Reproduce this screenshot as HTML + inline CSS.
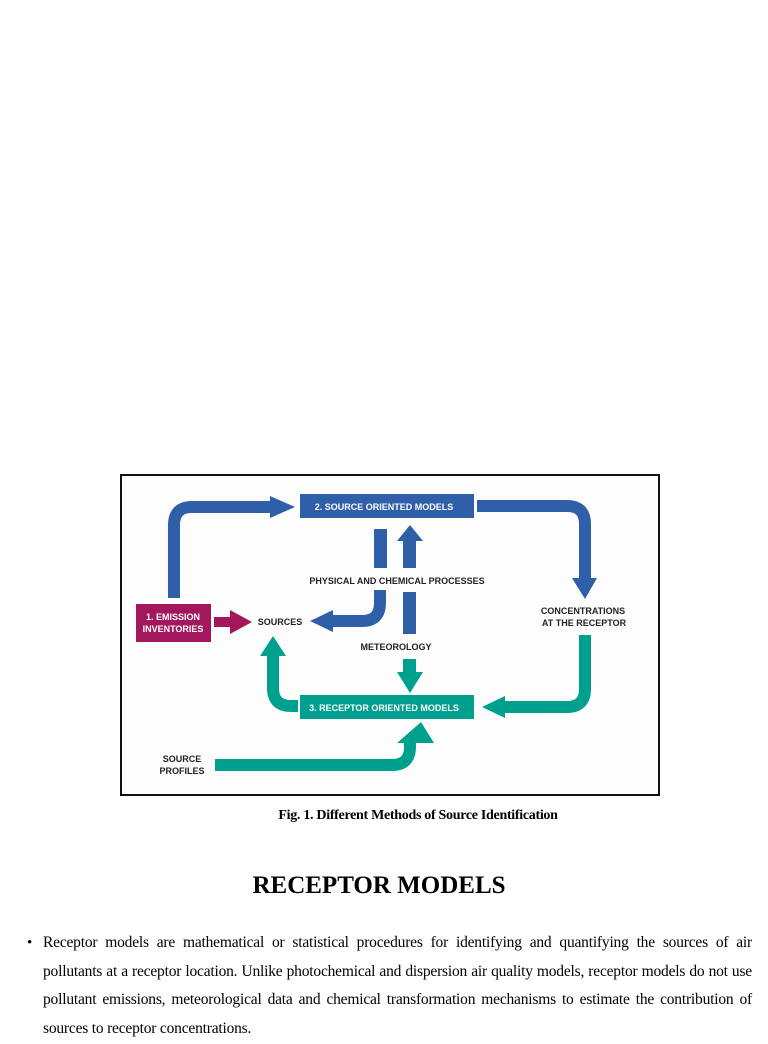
<!DOCTYPE html>
<html><head><meta charset="utf-8"><style>
html,body{margin:0;padding:0;background:#fff;}
body{width:768px;height:1024px;position:relative;overflow:hidden;font-family:"Liberation Serif",serif;}
.fig{position:absolute;left:120px;top:474px;width:536px;height:318px;border:2px solid #111;background:#fdfdfd;}
.cap{position:absolute;left:0;width:836px;top:808px;text-align:center;font-weight:bold;font-size:14px;letter-spacing:-0.3px;}
h1{position:absolute;left:0;width:758px;top:872px;margin:0;text-align:center;font-size:25px;font-weight:bold;}
.p{position:absolute;left:43px;width:709px;top:929px;font-size:15.5px;line-height:28.7px;text-align:justify;letter-spacing:-0.2px;}
.b{position:absolute;left:27px;top:929px;font-size:15px;line-height:28.7px;}
</style></head><body>
<div class="fig">
<svg width="536" height="318" viewBox="122 476 536 318" xmlns="http://www.w3.org/2000/svg" font-family="Liberation Sans, sans-serif" font-weight="bold">
<g fill="none" stroke-width="12">
<path d="M174 598 V525 Q174 507 192 507 H272" stroke="#2e5fa8"/>
<path d="M477 506 H567 Q585 506 585 524 V580" stroke="#2e5fa8"/>
<path d="M380 590 V603 Q380 621 362 621 H332" stroke="#2e5fa8"/>
<path d="M585 635 V689 Q585 707 567 707 H505" stroke="#00a08f"/>
<path d="M298 706 H291 Q273 706 273 688 V655" stroke="#00a08f"/>
<path d="M215 765 H392 Q410 765 410 747 V742" stroke="#00a08f"/>
</g>
<g fill="#2e5fa8">
<rect x="374" y="529" width="13" height="39"/>
<rect x="403" y="541" width="13" height="27"/>
<rect x="403" y="592" width="13" height="42"/>
<polygon points="397,541 423,541 410,525"/>
<polygon points="270,496 295,507 270,518"/>
<polygon points="572,578 597,578 585,599"/>
<polygon points="333,610 333,632 310,621"/>
<rect x="300" y="494" width="174" height="24"/>
</g>
<g fill="#00a08f">
<rect x="403" y="659" width="13" height="14"/>
<polygon points="397,672 423,672 410,693"/>
<polygon points="505,696 505,718 482,707"/>
<polygon points="260,656 286,656 273,636"/>
<polygon points="397,743 434,743 421,722"/>
<rect x="300" y="695" width="174" height="24"/>
</g>
<rect x="136" y="604" width="75" height="38" fill="#a3185d"/>
<rect x="214" y="617" width="18" height="10" fill="#a3185d"/>
<polygon points="230,610 252,622 230,634" fill="#a3185d"/>
<g font-size="9" fill="#fff" text-anchor="middle">
<text x="384" y="510">2. SOURCE ORIENTED MODELS</text>
<text x="384" y="711">3. RECEPTOR ORIENTED MODELS</text>
<text x="173" y="620">1. EMISSION</text>
<text x="173" y="632">INVENTORIES</text>
</g>
<g font-size="9" fill="#222" text-anchor="middle">
<text x="397" y="584">PHYSICAL AND CHEMICAL PROCESSES</text>
<text x="280" y="625">SOURCES</text>
<text x="396" y="650">METEOROLOGY</text>
<text x="583" y="614">CONCENTRATIONS</text>
<text x="584" y="626">AT THE RECEPTOR</text>
<text x="182" y="762">SOURCE</text>
<text x="182" y="774">PROFILES</text>
</g>
</svg>
</div>
<div class="cap">Fig. 1. Different Methods of Source Identification</div>
<h1>RECEPTOR MODELS</h1>
<div class="b">•</div>
<div class="p">Receptor models are mathematical or statistical procedures for identifying and quantifying the sources of air pollutants at a receptor location. Unlike photochemical and dispersion air quality models, receptor models do not use pollutant emissions, meteorological data and chemical transformation mechanisms to estimate the contribution of sources to receptor concentrations.</div>
</body></html>
